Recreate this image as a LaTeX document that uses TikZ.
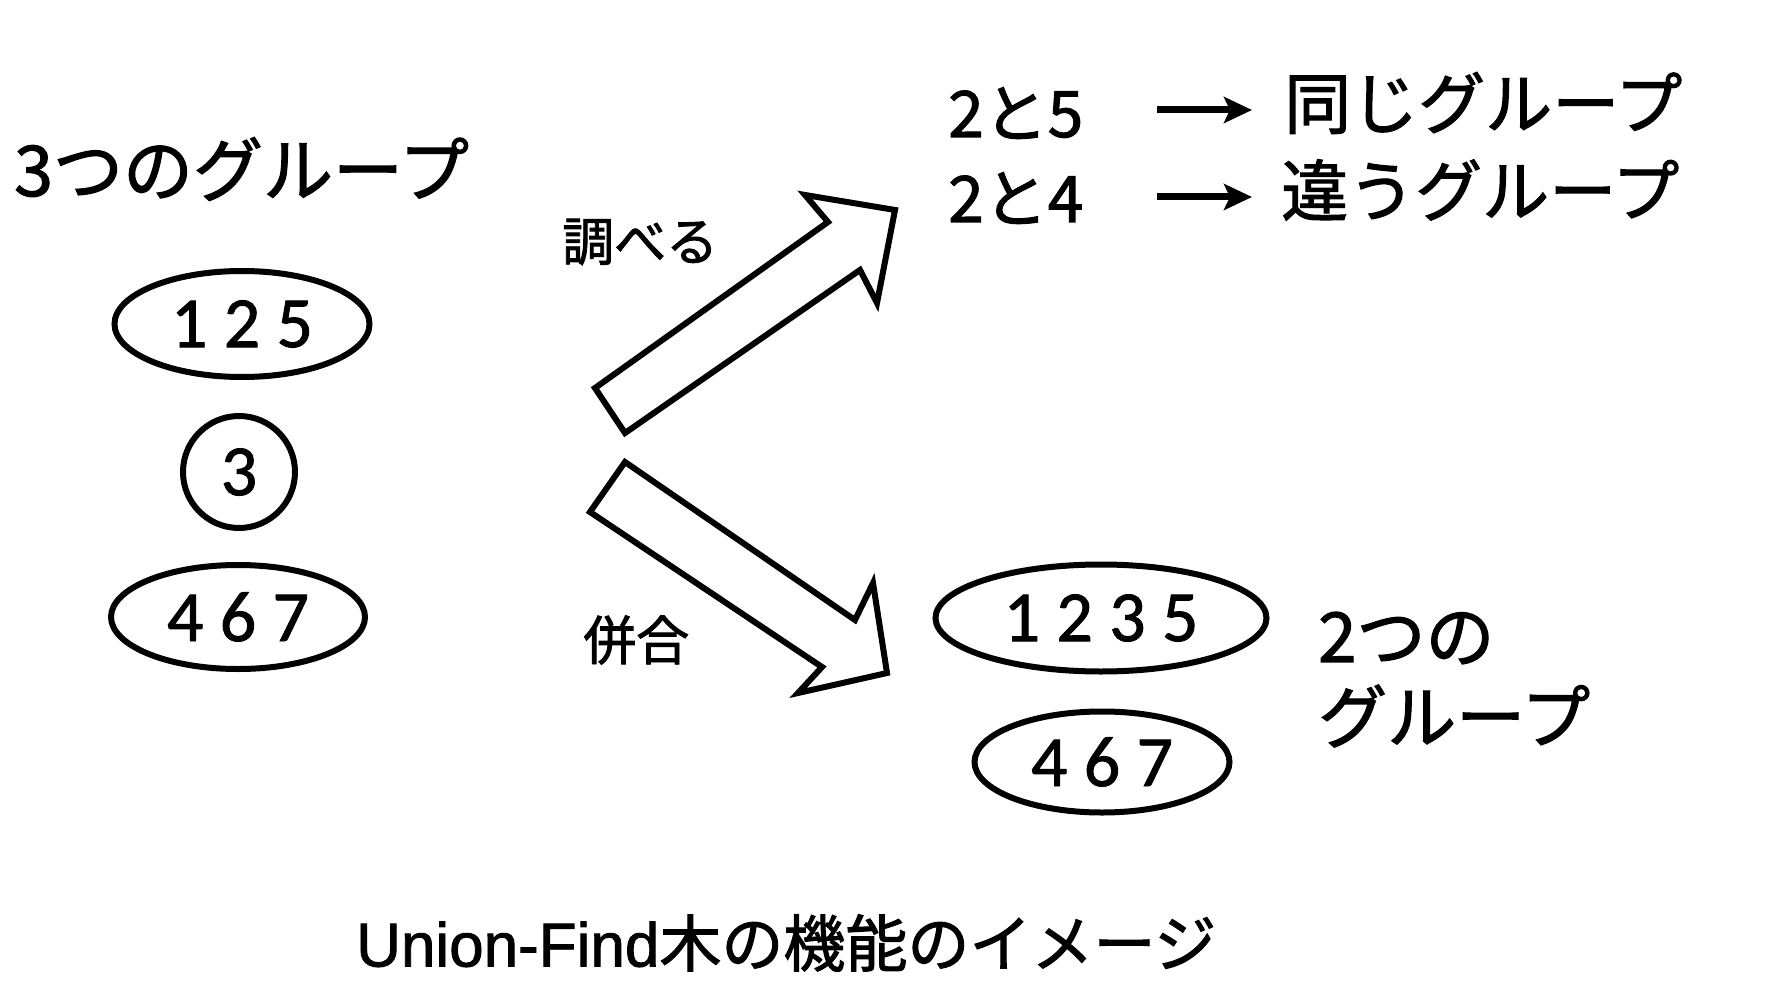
\documentclass[tikz,border=0pt]{standalone}
\usepackage{fontspec}
\setmainfont{Noto Sans CJK JP}[FakeBold=1.6]
\newfontfamily\digitfont{Carlito}[FakeBold=1.2]
\newfontfamily\latinfont{Liberation Sans}[FakeBold=1.4]
\usetikzlibrary{shapes.geometric,arrows.meta}
\begin{document}
\begin{tikzpicture}[x=1pt,y=-1pt,
  grp/.style={ellipse,draw,line width=6pt,inner sep=0pt,
    font=\digitfont\fontsize{72}{80}\selectfont},
  single/.style={circle,draw,line width=6pt,inner sep=0pt,minimum size=112pt,
    font=\digitfont\fontsize{72}{80}\selectfont},
  lbl/.style={anchor=west,inner sep=0pt},
  blockarrow/.style={draw,line width=6pt,line join=miter,fill=white},
  textarrow/.style={line width=7pt,-{Stealth[length=28pt,width=26pt,inset=6pt]}}
]
\fill[white] (0,0) rectangle (1774,1000);
\useasboundingbox (0,0) rectangle (1774,1000);

% left side
\node[lbl,font=\fontsize{70}{80}\selectfont] (three) at (14,169) {3つのグループ};
\node[grp,minimum width=255pt,minimum height=106pt] (g125) at (242,324) {1 2 5};
\node[single] (g3) at (239,472) {3};
\node[grp,minimum width=254pt,minimum height=104pt] (g467) at (238,617) {4 6 7};

% block arrows
\coordinate (ua1) at (595,388);
\coordinate (ua2) at (828,222);
\coordinate (ua3) at (805,195);
\coordinate (ua4) at (895,210);
\coordinate (ua5) at (877,303);
\coordinate (ua6) at (860,270);
\coordinate (ua7) at (625,433);
\draw[blockarrow] (ua1) -- (ua2) -- (ua3) -- (ua4) -- (ua5) -- (ua6) -- (ua7) -- cycle;

\coordinate (la1) at (625,462);
\coordinate (la2) at (855,620);
\coordinate (la3) at (873,583);
\coordinate (la4) at (887,673);
\coordinate (la5) at (798,693);
\coordinate (la6) at (822,667);
\coordinate (la7) at (590,512);
\draw[blockarrow] (la1) -- (la2) -- (la3) -- (la4) -- (la5) -- (la6) -- (la7) -- cycle;

\node[lbl,font=\fontsize{52}{60}\selectfont] (find) at (562,242) {調べる};
\node[lbl,font=\fontsize{53}{60}\selectfont] (union) at (583,640) {併合};

% top right
\node[lbl,font=\fontsize{64}{72}\selectfont] (q25) at (948,113) {2と5};
\node[lbl,font=\fontsize{64}{72}\selectfont] (q24) at (948,198) {2と4};
\node[lbl,font=\fontsize{67}{76}\selectfont] (same) at (1284,103) {同じグループ};
\node[lbl,font=\fontsize{67}{76}\selectfont] (diff) at (1281,190) {違うグループ};
\coordinate (a1s) at (1157,110);
\coordinate (a1e) at (1252,110);
\coordinate (a2s) at (1157,197);
\coordinate (a2e) at (1252,197);
\draw[textarrow] (a1s) -- (a1e);
\draw[textarrow] (a2s) -- (a2e);

% bottom right
\node[grp,minimum width=331pt,minimum height=107pt] (g1235) at (1101,618) {1 2 3 5};
\node[grp,minimum width=255pt,minimum height=101pt] (g467b) at (1102,762) {4 6 7};
\node[lbl,font=\fontsize{69}{78}\selectfont] (two) at (1318,638) {2つの};
\node[lbl,font=\fontsize{69}{78}\selectfont] (twog) at (1318,716) {グループ};

% caption
\node[lbl,font=\fontsize{62}{70}\selectfont] (cap) at (356,943) {{\latinfont Union-Find}木の機能のイメージ};
\end{tikzpicture}
\end{document}
